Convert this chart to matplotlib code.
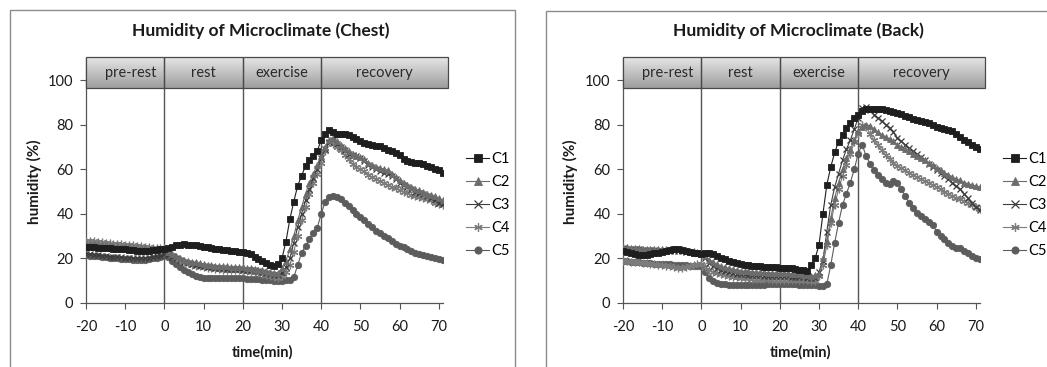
import numpy as np
import matplotlib
matplotlib.use("Agg")
import matplotlib.pyplot as plt
from matplotlib.patches import Rectangle
from matplotlib.lines import Line2D

plt.rcParams['font.family'] = ['Lato', 'DejaVu Sans']
plt.rcParams['axes.unicode_minus'] = False

# ---------------- data ----------------
time_min = list(range(-20, 72))

chest_c1 = [25.0, 25.0, 24.9, 24.8, 24.6, 24.5, 24.5, 24.3, 24.2, 24.0,
            24.0, 23.8, 23.6, 23.5, 23.5, 23.4, 23.5, 23.6, 23.8, 24.0,
            24.2, 24.6, 25.2, 25.8, 26.2, 26.3, 26.2, 26.0, 25.8, 25.6,
            25.3, 24.9, 24.5, 24.2, 24.0, 23.8, 23.6, 23.4, 23.2, 23.0,
            22.8, 22.4, 21.8, 20.8, 19.8, 18.8, 17.8, 17.0, 16.8, 17.3,
            20.0, 27.5, 37.5, 45.4, 52.6, 57.0, 61.5, 64.0, 66.0, 68.3,
            73.0, 76.0, 77.4, 76.5, 76.0, 75.8, 75.6, 75.2, 74.5, 73.5,
            72.5, 71.8, 71.2, 70.8, 70.5, 70.2, 69.5, 68.8, 68.0, 67.2,
            66.2, 64.5, 63.6, 63.4, 63.0, 62.6, 62.4, 61.5, 60.8, 60.3,
            59.8, 58.2]
chest_c2 = [26.5, 26.4, 26.3, 26.1, 26.0, 25.8, 25.7, 25.5, 25.4, 25.2,
            25.1, 25.0, 24.8, 24.7, 24.6, 24.5, 24.4, 24.3, 24.3, 24.2,
            24.0, 23.0, 22.0, 21.0, 20.2, 19.5, 19.0, 18.6, 18.2, 17.8,
            17.5, 17.2, 17.0, 16.8, 16.6, 16.5, 16.4, 16.3, 16.2, 16.1,
            16.0, 15.8, 15.6, 15.3, 15.0, 14.7, 14.3, 13.8, 13.5, 13.4,
            15.5, 19.0, 24.0, 30.0, 37.0, 43.0, 49.0, 54.0, 58.0, 62.0,
            66.0, 70.0, 73.0, 74.0, 72.5, 71.0, 69.5, 68.0, 67.0, 66.0,
            65.5, 64.5, 63.0, 62.0, 61.0, 60.5, 60.0, 59.5, 58.0, 56.5,
            55.0, 54.0, 53.0, 52.0, 51.0, 50.5, 50.0, 49.0, 48.5, 48.0,
            47.0, 46.0]
chest_c3 = [22.0, 21.8, 21.6, 21.4, 21.2, 21.0, 20.8, 20.7, 20.6, 20.5,
            20.4, 20.3, 20.2, 20.1, 20.1, 20.2, 20.4, 20.6, 20.9, 21.2,
            21.8, 21.5, 20.8, 20.0, 19.2, 18.5, 18.0, 17.5, 17.0, 16.8,
            16.5, 16.3, 16.0, 15.8, 15.6, 15.5, 15.4, 15.3, 15.2, 15.1,
            15.0, 14.9, 14.8, 14.6, 14.3, 14.0, 13.5, 13.0, 12.6, 12.5,
            13.5, 16.0, 20.0, 27.0, 34.0, 40.0, 46.0, 51.0, 56.0, 60.0,
            65.0, 69.0, 72.0, 73.0, 71.5, 70.0, 68.5, 67.0, 66.5, 66.0,
            65.0, 63.5, 62.0, 61.0, 60.0, 59.0, 58.5, 58.0, 57.0, 55.5,
            54.0, 53.0, 52.0, 51.0, 50.0, 49.5, 49.0, 48.0, 47.0, 46.0,
            45.0, 44.5]
chest_c4 = [28.0, 27.8, 27.6, 27.4, 27.2, 27.0, 26.8, 26.6, 26.5, 26.3,
            26.1, 26.0, 25.8, 25.6, 25.4, 25.2, 25.0, 24.8, 24.7, 24.6,
            24.5, 23.2, 21.5, 20.3, 19.3, 18.5, 17.8, 17.2, 16.8, 16.4,
            16.0, 15.7, 15.5, 15.3, 15.1, 15.0, 14.9, 14.8, 14.7, 14.6,
            14.5, 14.3, 14.0, 13.7, 13.4, 13.0, 12.6, 12.0, 11.5, 11.3,
            12.0, 14.0, 17.0, 23.0, 30.0, 37.0, 43.0, 49.0, 54.0, 58.0,
            63.0, 68.0, 72.0, 71.5, 70.0, 68.5, 66.5, 64.5, 62.5, 61.0,
            60.0, 59.0, 57.5, 56.5, 55.5, 54.5, 54.0, 53.0, 52.0, 51.5,
            50.5, 50.0, 49.5, 48.5, 48.0, 47.5, 47.0, 46.5, 46.0, 45.0,
            44.5, 44.0]
chest_c5 = [21.5, 21.3, 21.1, 20.9, 20.7, 20.5, 20.3, 20.1, 20.0, 19.8,
            19.7, 19.6, 19.5, 19.4, 19.4, 19.5, 19.7, 20.0, 20.4, 20.8,
            21.5, 20.5, 19.0, 17.5, 16.2, 15.0, 13.8, 12.8, 12.0, 11.6,
            11.3, 11.2, 11.1, 11.0, 11.0, 11.0, 11.1, 11.1, 11.0, 11.0,
            11.0, 10.9, 10.8, 10.7, 10.6, 10.5, 10.3, 10.1, 10.0, 9.9,
            10.0, 10.1, 10.2, 11.5, 17.0, 22.5, 25.6, 28.5, 31.2, 33.8,
            40.0, 45.4, 47.5, 48.0, 47.5, 46.5, 45.0, 43.5, 41.5, 40.0,
            38.5, 37.0, 35.5, 34.0, 32.5, 31.3, 30.2, 29.0, 27.8, 26.5,
            25.5, 25.0, 24.0, 23.2, 22.5, 22.0, 21.5, 21.0, 20.5, 20.0,
            19.6, 19.3]

back_c1 = [23.5, 23.0, 22.5, 22.0, 21.5, 21.5, 21.6, 21.8, 22.2, 22.6,
           23.0, 23.4, 23.8, 24.0, 24.0, 23.8, 23.4, 23.0, 22.6, 22.2,
           22.0, 22.5, 22.6, 22.0, 21.0, 20.3, 19.6, 19.0, 18.5, 18.0,
           17.5, 17.2, 17.0, 16.8, 16.6, 16.5, 16.3, 16.2, 16.0, 16.0,
           15.9, 15.8, 15.7, 15.5, 15.3, 15.0, 14.6, 14.3, 17.0, 20.0,
           26.0, 40.0, 53.0, 61.0, 67.5, 72.4, 75.5, 78.4, 80.6, 82.8,
           84.5, 86.0, 86.8, 87.0, 87.2, 87.0, 86.8, 86.5, 86.2, 85.8,
           85.2, 84.6, 84.0, 83.2, 82.5, 82.0, 81.5, 81.0, 80.5, 79.8,
           79.0, 78.5, 78.0, 77.5, 77.0, 75.8, 74.5, 73.0, 72.0, 71.0,
           70.0, 69.0]
back_c2 = [25.0, 25.0, 24.8, 24.6, 24.5, 24.4, 24.3, 24.3, 24.2, 24.2,
           24.2, 24.2, 24.3, 24.3, 24.2, 24.0, 23.8, 23.5, 23.2, 22.8,
           22.5, 21.0, 19.5, 18.2, 17.3, 16.6, 16.0, 15.5, 15.1, 14.8,
           14.5, 14.3, 14.2, 14.0, 13.9, 13.8, 13.7, 13.6, 13.5, 13.5,
           13.5, 13.4, 13.3, 13.2, 13.0, 12.8, 12.6, 12.4, 12.2, 12.5,
           13.0, 20.0, 28.0, 38.0, 47.0, 54.0, 60.0, 65.0, 69.0, 73.0,
           77.0, 79.0, 80.0, 79.5, 78.0, 76.5, 75.5, 74.5, 73.5, 72.5,
           71.0, 70.0, 69.0, 68.0, 67.0, 66.0, 65.0, 64.0, 63.0, 61.8,
           60.5, 59.5, 58.5, 57.5, 56.5, 55.5, 55.0, 54.0, 53.5, 53.0,
           52.5, 52.0]
back_c3 = [24.5, 24.4, 24.3, 24.1, 24.0, 23.8, 23.7, 23.6, 23.6, 23.5,
           23.5, 23.5, 23.4, 23.4, 23.3, 23.2, 23.0, 22.8, 22.5, 22.2,
           21.8, 20.0, 18.0, 16.5, 15.5, 14.8, 14.2, 13.8, 13.5, 13.2,
           13.0, 12.8, 12.7, 12.6, 12.5, 12.4, 12.3, 12.2, 12.2, 12.1,
           12.0, 12.0, 11.9, 11.8, 11.7, 11.6, 11.5, 11.4, 11.2, 11.0,
           14.0, 19.0, 32.0, 44.0, 52.0, 58.0, 64.0, 69.0, 73.0, 78.0,
           83.0, 87.5, 88.0, 86.5, 84.5, 83.0, 81.5, 80.0, 78.5, 76.5,
           74.0, 72.5, 71.0, 69.5, 68.0, 66.8, 65.5, 64.0, 62.5, 61.0,
           59.5, 58.2, 57.0, 55.5, 54.0, 52.5, 51.0, 49.0, 47.0, 45.0,
           43.0, 41.5]
back_c4 = [19.0, 18.8, 18.6, 18.4, 18.2, 18.0, 17.8, 17.6, 17.4, 17.2,
           17.0, 16.8, 16.5, 16.2, 15.8, 15.6, 16.0, 16.5, 17.0, 17.3,
           17.5, 16.2, 15.0, 14.0, 13.3, 12.8, 12.4, 12.0, 11.7, 11.5,
           11.3, 11.1, 11.0, 10.9, 10.8, 10.7, 10.6, 10.6, 10.5, 10.5,
           10.5, 10.5, 10.4, 10.4, 10.3, 10.3, 10.2, 10.1, 10.0, 10.0,
           12.0, 17.0, 26.0, 36.0, 44.0, 51.0, 57.0, 62.0, 67.0, 72.0,
           76.0, 80.0, 79.0, 76.0, 73.0, 71.0, 68.5, 66.5, 64.5, 63.0,
           61.5, 60.5, 59.5, 58.5, 57.5, 56.5, 55.5, 54.8, 54.0, 53.0,
           52.0, 51.0, 50.0, 49.0, 48.0, 47.2, 46.5, 45.8, 45.0, 44.0,
           43.0, 42.0]
back_c5 = [19.0, 18.8, 18.6, 18.4, 18.2, 18.0, 17.9, 17.8, 17.7, 17.6,
           17.5, 17.4, 17.3, 17.2, 17.1, 17.0, 16.9, 16.8, 16.7, 16.6,
           16.5, 14.0, 11.0, 9.8, 9.0, 8.6, 8.3, 8.1, 8.0, 8.0,
           8.0, 8.0, 8.0, 8.1, 8.1, 8.2, 8.2, 8.3, 8.3, 8.4,
           8.4, 8.5, 8.5, 8.4, 8.3, 8.2, 8.1, 8.0, 8.0, 7.9,
           7.8, 7.8, 8.5, 17.0, 27.0, 36.0, 44.0, 49.0, 54.0, 60.0,
           67.0, 71.0, 66.0, 62.5, 59.5, 57.5, 55.5, 54.0, 53.5, 54.5,
           54.0, 51.0, 48.0, 45.0, 42.5, 40.5, 39.0, 37.5, 36.5, 35.0,
           32.0, 30.0, 28.5, 27.0, 25.5, 24.5, 24.5, 23.5, 22.3, 21.2,
           20.2, 19.8]

series_names = ["C1", "C2", "C3", "C4", "C5"]
phase_names = ["pre-rest", "rest", "exercise", "recovery"]
phase_edges = [-20, 0, 20, 40, 72.3]
x_ticks = [-20, -10, 0, 10, 20, 30, 40, 50, 60, 70]
y_ticks = [0, 20, 40, 60, 80, 100]

titles = ["Humidity of Microclimate (Chest)", "Humidity of Microclimate (Back)"]
panels = [[chest_c1, chest_c2, chest_c3, chest_c4, chest_c5],
          [back_c1, back_c2, back_c3, back_c4, back_c5]]

# ---------------- styles ----------------
styles = [
    dict(color="#1e1e1e", marker="s", ms=4.6, mew=0.6),
    dict(color="#6c6c6c", marker="^", ms=4.6, mew=0.6),
    dict(color="#3c3c3c", marker="x", ms=4.6, mew=0.9),
    dict(color="#7c7c7c", marker=(6, 2, 0), ms=5.5, mew=0.9),
    dict(color="#5c5c5c", marker="o", ms=4.6, mew=0.6),
]

W, H = 1047, 367
fig = plt.figure(figsize=(W / 100, H / 100), dpi=100)

def fx(px):
    return px / W

def fy(py):
    return 1 - py / H

# panel frames
fig.patches.append(Rectangle((fx(10), fy(380)), fx(505), fy(10) - fy(380),
                             transform=fig.transFigure, fill=False,
                             edgecolor="#8c8c8c", lw=1.0))
fig.patches.append(Rectangle((fx(546), fy(380)), fx(520), fy(11) - fy(380),
                             transform=fig.transFigure, fill=False,
                             edgecolor="#8c8c8c", lw=1.0))

axes_left_px = [86, 623]
title_cx = [261, 798]
ylab_x = [34, 570]
xlab_cx = [263, 800]
legend_x_px = [466, 1003]

ax_bottom = fy(303)
ax_height = (303 - 57.7) / H
ax_width = (91 * 3.92) / W

grad = np.linspace(0.90, 0.62, 64).reshape(-1, 1)

for p in range(2):
    ax = fig.add_axes([fx(axes_left_px[p]), ax_bottom, ax_width, ax_height])
    for s in range(5):
        st = styles[s]
        ax.plot(time_min, panels[p][s], color=st["color"], lw=0.8,
                marker=st["marker"], ms=st["ms"], mew=st["mew"],
                mec=st["color"], mfc=st["color"], label=series_names[s],
                zorder=3 + (4 - s) * 0.1)
    # phase dividers
    for xv in phase_edges[1:4]:
        ax.plot([xv, xv], [0, 96.4], color="#555555", lw=1.0, zorder=2)
    # phase header boxes
    for i in range(4):
        x0, x1 = phase_edges[i], phase_edges[i + 1]
        ax.add_patch(Rectangle((x0 + 0.3, 95.8), x1 - x0, 14.0,
                               facecolor="#d8d8d8", edgecolor="none",
                               clip_on=False, zorder=4))
        ax.imshow(grad, extent=[x0, x1, 96.4, 110.3], cmap="gray",
                  vmin=0, vmax=1, aspect="auto", clip_on=False, zorder=5,
                  interpolation="bilinear")
        ax.add_patch(Rectangle((x0, 96.4), x1 - x0, 13.9, fill=False,
                               edgecolor="#4a4a4a", lw=0.9, clip_on=False,
                               zorder=6))
        ax.text((x0 + x1) / 2 + (1.5 if i == 0 else 0), 103.3, phase_names[i],
                ha="center", va="center", fontsize=10.5, color="#2a2a2a",
                zorder=7, clip_on=False)
    ax.set_xlim(-20, 71)
    ax.set_ylim(0, 110)
    ax.set_xticks(x_ticks)
    ax.set_yticks(y_ticks)
    ax.tick_params(axis="both", direction="out", length=4, width=0.8,
                   color="#555555", labelsize=10.5, labelcolor="#1a1a1a",
                   pad=5)
    ax.tick_params(axis="x", pad=8)
    for side in ["top", "right"]:
        ax.spines[side].set_visible(False)
    for side in ["left", "bottom"]:
        ax.spines[side].set_color("#555555")
        ax.spines[side].set_linewidth(0.9)
    ax.set_facecolor("none")

    leg_handles = [Line2D([0], [0], color=styles[s]["color"], lw=0.8,
                          marker=styles[s]["marker"], ms=styles[s]["ms"] + 0.6,
                          mew=styles[s]["mew"], mec=styles[s]["color"],
                          mfc=styles[s]["color"]) for s in range(5)]
    lx = (legend_x_px[p] - axes_left_px[p]) / (91 * 3.92)
    ly = (303 - 152) / (303 - 57.7)
    ax.legend(leg_handles, series_names, loc="upper left",
              bbox_to_anchor=(lx, ly), frameon=False, fontsize=10.5,
              handlelength=1.6, handletextpad=0.15, labelspacing=0.62,
              borderaxespad=0, borderpad=0)

    fig.text(fx(title_cx[p]), fy(31), titles[p], ha="center", va="center",
             fontsize=12.5, fontweight="bold", color="#1a1a1a")
    fig.text(fx(ylab_x[p]), fy(182), "humidity (%)", ha="center",
             va="center", rotation=90, fontsize=11, fontweight="bold",
             color="#1a1a1a")
    fig.text(fx(xlab_cx[p]), fy(352), "time(min)", ha="center", va="center",
             fontsize=10.5, fontweight="bold", color="#1a1a1a")

fig.savefig("out.png", dpi=100)
